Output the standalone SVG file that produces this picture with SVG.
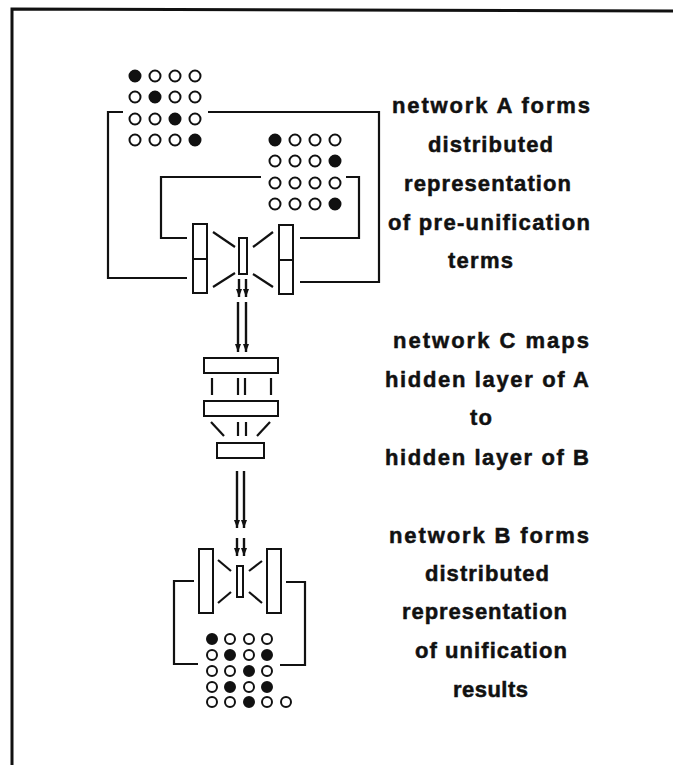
<svg xmlns="http://www.w3.org/2000/svg" width="673" height="765" viewBox="0 0 673 765">
<defs>
<style>
.ln{fill:none;stroke:#111;stroke-width:2.2;stroke-linecap:butt}
.bx{fill:#fff;stroke:#111;stroke-width:2}
.o{fill:#fff;stroke:#111;stroke-width:2}
.f{fill:#111;stroke:#111;stroke-width:2}
.ar{fill:none;stroke:#111;stroke-width:2.4;marker-end:url(#ah)}
.t{font-family:"Liberation Sans",Arial,Helvetica,sans-serif;font-weight:bold;font-size:22px;fill:#111;stroke:#111;stroke-width:0.5}
</style>
<marker id="ah" viewBox="0 0 8 6" refX="8" refY="3" markerWidth="8" markerHeight="6" markerUnits="userSpaceOnUse" orient="auto">
<path d="M0,0 L8,3 L0,6 z" fill="#111"/>
</marker>
</defs>
<rect width="673" height="765" fill="#fff"/>
<g id="frame">
<polyline class="ln" style="stroke-width:3" points="12,765 12,9 673,11"/>
</g>

<g id="connectors">
<!-- network A outer loop -->
<polyline class="ln" points="123,112 108,112 108,278 187,278"/>
<polyline class="ln" points="208,112 379,112 379,282 300,282"/>
<!-- network A inner loop -->
<polyline class="ln" points="261,177 161,177 161,238 187,238"/>
<polyline class="ln" points="346,177 359,177 359,238 300,238"/>
<!-- network A hidden links -->
<line class="ln" x1="213" y1="232" x2="235" y2="247"/>
<line class="ln" x1="253" y1="247" x2="273" y2="232"/>
<line class="ln" x1="213" y1="287" x2="235" y2="273"/>
<line class="ln" x1="253" y1="274" x2="273" y2="287"/>
<!-- A to C arrows -->
<line class="ar" x1="239" y1="279" x2="239" y2="297"/>
<line class="ar" x1="246" y1="279" x2="246" y2="297"/>
<line class="ar" x1="238" y1="302" x2="238" y2="352"/>
<line class="ar" x1="246" y1="302" x2="246" y2="352"/>
<!-- network C links -->
<line class="ln" x1="212" y1="378" x2="212" y2="395"/>
<line class="ln" x1="238" y1="378" x2="238" y2="395"/>
<line class="ln" x1="245" y1="378" x2="245" y2="395"/>
<line class="ln" x1="271" y1="378" x2="271" y2="395"/>
<line class="ln" x1="211" y1="422" x2="224" y2="436"/>
<line class="ln" x1="238" y1="422" x2="238" y2="436"/>
<line class="ln" x1="246" y1="422" x2="246" y2="436"/>
<line class="ln" x1="270" y1="422" x2="257" y2="436"/>
<!-- C to B arrows -->
<line class="ar" x1="237" y1="471" x2="237" y2="528"/>
<line class="ar" x1="244" y1="471" x2="244" y2="528"/>
<line class="ar" x1="237" y1="538" x2="237" y2="556"/>
<line class="ar" x1="244" y1="538" x2="244" y2="556"/>
<!-- network B hidden links -->
<line class="ln" x1="218" y1="560" x2="231" y2="571"/>
<line class="ln" x1="249" y1="571" x2="262" y2="561"/>
<line class="ln" x1="218" y1="603" x2="231" y2="592"/>
<line class="ln" x1="249" y1="592" x2="262" y2="603"/>
<!-- network B loop -->
<polyline class="ln" points="194,581 174,581 174,664 198,664"/>
<polyline class="ln" points="286,582 305,582 305,665 280,665"/>
</g>

<g id="gridA1">
<circle class="f" cx="135" cy="76" r="5.5"/><circle class="o" cx="155" cy="76" r="5.5"/><circle class="o" cx="175" cy="76" r="5.5"/><circle class="o" cx="195" cy="76" r="5.5"/>
<circle class="o" cx="135" cy="97" r="5.5"/><circle class="f" cx="155" cy="97" r="5.5"/><circle class="o" cx="175" cy="97" r="5.5"/><circle class="o" cx="195" cy="97" r="5.5"/>
<circle class="o" cx="135" cy="119" r="5.5"/><circle class="o" cx="155" cy="119" r="5.5"/><circle class="f" cx="175" cy="119" r="5.5"/><circle class="o" cx="195" cy="119" r="5.5"/>
<circle class="o" cx="135" cy="140" r="5.5"/><circle class="o" cx="155" cy="140" r="5.5"/><circle class="o" cx="175" cy="140" r="5.5"/><circle class="f" cx="195" cy="140" r="5.5"/>
</g>
<g id="gridA2">
<circle class="f" cx="275" cy="140" r="5.5"/><circle class="o" cx="295" cy="140" r="5.5"/><circle class="o" cx="315" cy="140" r="5.5"/><circle class="o" cx="335" cy="140" r="5.5"/>
<circle class="o" cx="275" cy="161" r="5.5"/><circle class="o" cx="295" cy="161" r="5.5"/><circle class="o" cx="315" cy="161" r="5.5"/><circle class="f" cx="335" cy="161" r="5.5"/>
<circle class="o" cx="275" cy="183" r="5.5"/><circle class="o" cx="295" cy="183" r="5.5"/><circle class="o" cx="315" cy="183" r="5.5"/><circle class="o" cx="335" cy="183" r="5.5"/>
<circle class="o" cx="275" cy="204" r="5.5"/><circle class="o" cx="295" cy="204" r="5.5"/><circle class="o" cx="315" cy="204" r="5.5"/><circle class="f" cx="335" cy="204" r="5.5"/>
</g>
<g id="A-left">
<rect class="bx" x="193" y="224" width="14" height="69"/>
<line class="ln" style="stroke-width:2" x1="193" y1="259" x2="207" y2="259"/>
</g>
<g id="A-hidden">
<rect class="bx" x="239" y="238" width="8" height="36"/>
</g>
<g id="A-right">
<rect class="bx" x="279" y="225" width="14" height="69"/>
<line class="ln" style="stroke-width:2" x1="279" y1="260" x2="293" y2="260"/>
</g>

<g id="C-layer1"><rect class="bx" x="204" y="358" width="74" height="15"/></g>
<g id="C-layer2"><rect class="bx" x="204" y="401" width="74" height="15"/></g>
<g id="C-layer3"><rect class="bx" x="217" y="443" width="47" height="15"/></g>

<g id="B-left"><rect class="bx" x="199" y="549" width="14" height="64"/></g>
<g id="B-hidden"><rect class="bx" x="237" y="566" width="6" height="31"/></g>
<g id="B-right"><rect class="bx" x="267" y="549" width="14" height="64"/></g>

<g id="gridB">
<circle class="f" cx="212" cy="639" r="5"/><circle class="o" cx="230" cy="639" r="5"/><circle class="o" cx="249" cy="639" r="5"/><circle class="o" cx="267" cy="639" r="5"/>
<circle class="o" cx="212" cy="655" r="5"/><circle class="f" cx="230" cy="655" r="5"/><circle class="o" cx="249" cy="655" r="5"/><circle class="f" cx="267" cy="655" r="5"/>
<circle class="o" cx="212" cy="671" r="5"/><circle class="o" cx="230" cy="671" r="5"/><circle class="f" cx="249" cy="671" r="5"/><circle class="o" cx="267" cy="671" r="5"/>
<circle class="o" cx="212" cy="687" r="5"/><circle class="f" cx="230" cy="687" r="5"/><circle class="o" cx="249" cy="687" r="5"/><circle class="f" cx="267" cy="687" r="5"/>
<circle class="o" cx="212" cy="702" r="5"/><circle class="o" cx="230" cy="702" r="5"/><circle class="f" cx="249" cy="702" r="5"/><circle class="o" cx="267" cy="702" r="5"/><circle class="o" cx="286" cy="702" r="5"/>
</g>

<g id="label-A">
<text class="t" x="392" y="113" textLength="198" lengthAdjust="spacing">network A forms</text>
<text class="t" x="428" y="152" textLength="125" lengthAdjust="spacing">distributed</text>
<text class="t" x="404" y="191" textLength="167" lengthAdjust="spacing">representation</text>
<text class="t" x="388" y="230" textLength="202" lengthAdjust="spacing">of pre-unification</text>
<text class="t" x="448" y="268" textLength="65" lengthAdjust="spacing">terms</text>
</g>
<g id="label-C">
<text class="t" x="393" y="348" textLength="196" lengthAdjust="spacing">network C maps</text>
<text class="t" x="385" y="387" textLength="204" lengthAdjust="spacing">hidden layer of A</text>
<text class="t" x="470" y="425" textLength="22" lengthAdjust="spacing">to</text>
<text class="t" x="385" y="465" textLength="204" lengthAdjust="spacing">hidden layer of B</text>
</g>
<g id="label-B">
<text class="t" x="389" y="543" textLength="200" lengthAdjust="spacing">network B forms</text>
<text class="t" x="425" y="581" textLength="124" lengthAdjust="spacing">distributed</text>
<text class="t" x="402" y="619" textLength="165" lengthAdjust="spacing">representation</text>
<text class="t" x="415" y="658" textLength="152" lengthAdjust="spacing">of unification</text>
<text class="t" x="453" y="697" textLength="75" lengthAdjust="spacing">results</text>
</g>
</svg>
